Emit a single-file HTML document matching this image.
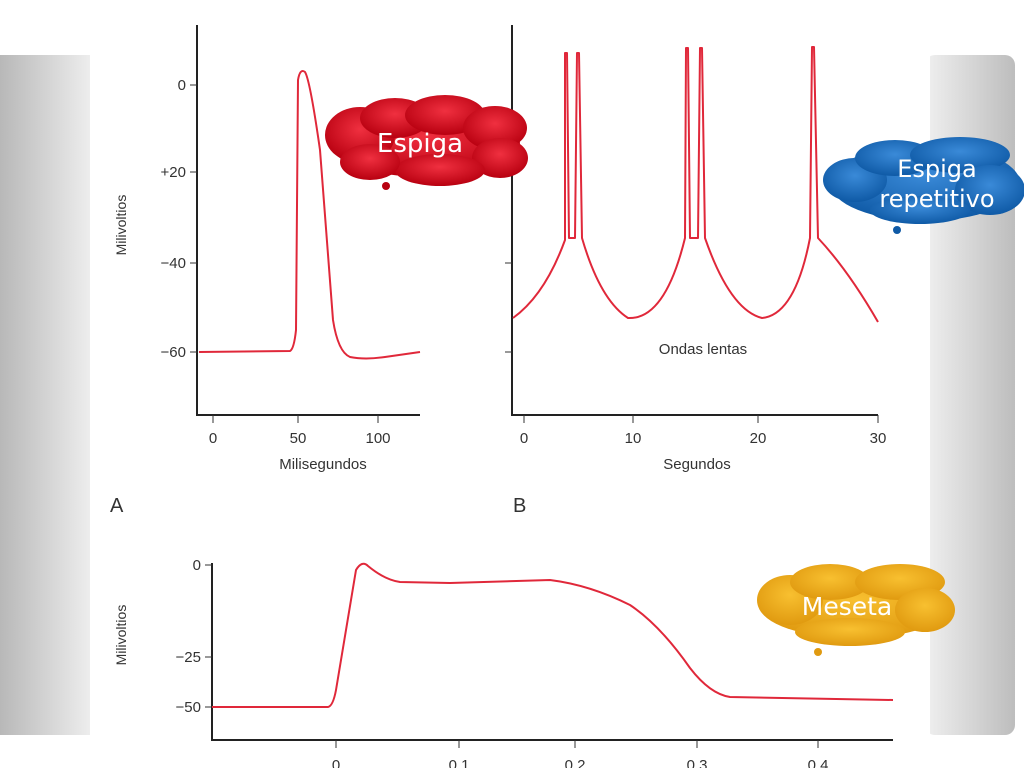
<!DOCTYPE html>
<html><head><meta charset="utf-8"><style>
html,body{margin:0;padding:0;width:1024px;height:768px;overflow:hidden;background:#fff}
svg{display:block}
text{font-family:"Liberation Sans",sans-serif;fill:#333}
.c{font-family:"DejaVu Sans","Liberation Sans",sans-serif;fill:#fff}
</style></head><body>
<svg width="1024" height="768" viewBox="0 0 1024 768" xmlns="http://www.w3.org/2000/svg">
<defs>
<linearGradient id="gl" x1="0" x2="1"><stop offset="0" stop-color="#b8b8b8"/><stop offset="1" stop-color="#f0f0f0"/></linearGradient>
<linearGradient id="gr" x1="0" x2="1"><stop offset="0" stop-color="#f0f0f0"/><stop offset="1" stop-color="#bdbdbd"/></linearGradient>
<radialGradient id="rr" cx="0.5" cy="0.4" r="0.6"><stop offset="0" stop-color="#f03040"/><stop offset="1" stop-color="#b80010"/></radialGradient>
<radialGradient id="rb" cx="0.5" cy="0.4" r="0.6"><stop offset="0" stop-color="#3a8ad8"/><stop offset="1" stop-color="#0f5aa6"/></radialGradient>
<radialGradient id="ry" cx="0.5" cy="0.4" r="0.6"><stop offset="0" stop-color="#f8c030"/><stop offset="1" stop-color="#e09a10"/></radialGradient>
</defs>
<rect x="0" y="0" width="1024" height="768" fill="#fff"/>
<rect x="0" y="55" width="95" height="680" fill="url(#gl)"/>
<rect x="925" y="55" width="90" height="680" rx="10" fill="url(#gr)"/>
<rect x="90" y="0" width="840" height="768" fill="#fff"/>

<g stroke="#222" stroke-width="2" fill="none">
<path d="M197 25 V415 H420"/>
<path d="M512 25 V415 H878"/>
<path d="M212 563 V740 H893"/>
</g>
<g stroke="#333" stroke-width="1" fill="none">
<path d="M190 85H197M190 172H197M190 263H197M190 352H197"/>
<path d="M213 415V423M298 415V423M378 415V423"/>
<path d="M505 110H512M505 263H512M505 352H512"/>
<path d="M524 415V423M633 415V423M758 415V423M878 415V423"/>
<path d="M205 565H212M205 657H212M205 707H212"/>
<path d="M336 740V748M459 740V748M575 740V748M697 740V748M818 740V748"/>
</g>
<g font-size="15" text-anchor="end">
<text x="186" y="90">0</text><text x="186" y="177">+20</text><text x="186" y="268">−40</text><text x="186" y="357">−60</text>
<text x="201" y="570">0</text><text x="201" y="662">−25</text><text x="201" y="712">−50</text>
</g>
<g font-size="15" text-anchor="middle">
<text x="213" y="443">0</text><text x="298" y="443">50</text><text x="378" y="443">100</text>
<text x="323" y="469">Milisegundos</text>
<text x="524" y="443">0</text><text x="633" y="443">10</text><text x="758" y="443">20</text><text x="878" y="443">30</text>
<text x="697" y="469">Segundos</text>
<text x="703" y="354">Ondas lentas</text>
<text x="336" y="770">0</text><text x="459" y="770">0.1</text><text x="575" y="770">0.2</text><text x="697" y="770">0.3</text><text x="818" y="770">0.4</text>
</g>
<text x="110" y="512" font-size="20">A</text>
<text x="513" y="512" font-size="20">B</text>
<text font-size="14" transform="translate(126,225) rotate(-90)" text-anchor="middle">Milivoltios</text>
<text font-size="14" transform="translate(126,635) rotate(-90)" text-anchor="middle">Milivoltios</text>

<g stroke="#e0283a" stroke-width="2" fill="none" stroke-linejoin="round">
<path d="M199 352 L290 351 Q294 349 296 330 L298 80 Q300 68 305 72 Q310 80 320 150 L333 320 Q338 352 350 357 Q365 360 385 357 L420 352"/>
<path d="M513 318 Q545 295 565 240 L565 53 L567 53 L569 238 L575 238 L577 53 L579 53 L582 238 Q600 300 628 318 Q665 320 685 238 L686 48 L688 48 L690 238 L698 238 L700 48 L702 48 L705 238 Q730 310 762 318 Q795 315 810 238 L812 47 L814 47 L818 238 Q848 270 878 322"/>
<path d="M212 707 L328 707 Q333 706 336 690 L356 570 Q362 560 368 566 Q385 580 400 582 L450 583 L550 580 Q590 585 630 605 Q660 625 690 668 Q710 694 730 697 L893 700"/>
</g>

<!-- red cloud -->
<g>
<g fill="url(#rr)">
<ellipse cx="425" cy="143" rx="95" ry="34"/>
<ellipse cx="360" cy="135" rx="35" ry="28"/><ellipse cx="395" cy="118" rx="35" ry="20"/>
<ellipse cx="445" cy="115" rx="40" ry="20"/><ellipse cx="495" cy="128" rx="32" ry="22"/>
<ellipse cx="500" cy="158" rx="28" ry="20"/><ellipse cx="440" cy="170" rx="45" ry="16"/><ellipse cx="370" cy="162" rx="30" ry="18"/>
</g>
<circle cx="386" cy="186" r="4" fill="#b80010"/>
<text class="c" x="420" y="152" font-size="26" text-anchor="middle">Espiga</text>
</g>
<!-- blue cloud -->
<g>
<g fill="url(#rb)">
<ellipse cx="925" cy="183" rx="95" ry="38"/>
<ellipse cx="855" cy="180" rx="32" ry="22"/><ellipse cx="895" cy="158" rx="40" ry="18"/>
<ellipse cx="960" cy="155" rx="50" ry="18"/><ellipse cx="990" cy="190" rx="35" ry="25"/><ellipse cx="920" cy="210" rx="50" ry="14"/>
</g>
<circle cx="897" cy="230" r="4" fill="#0f5aa6"/>
<text class="c" x="937" y="177" font-size="24" text-anchor="middle">Espiga</text>
<text class="c" x="937" y="207" font-size="24" text-anchor="middle">repetitivo</text>
</g>
<!-- yellow cloud -->
<g>
<g fill="url(#ry)">
<ellipse cx="855" cy="606" rx="95" ry="32"/>
<ellipse cx="790" cy="600" rx="33" ry="25"/><ellipse cx="830" cy="582" rx="40" ry="18"/>
<ellipse cx="900" cy="582" rx="45" ry="18"/><ellipse cx="925" cy="610" rx="30" ry="22"/><ellipse cx="850" cy="632" rx="55" ry="14"/>
</g>
<circle cx="818" cy="652" r="4" fill="#e09a10"/>
<text class="c" x="847" y="615" font-size="25" text-anchor="middle">Meseta</text>
</g>
</svg>
</body></html>
